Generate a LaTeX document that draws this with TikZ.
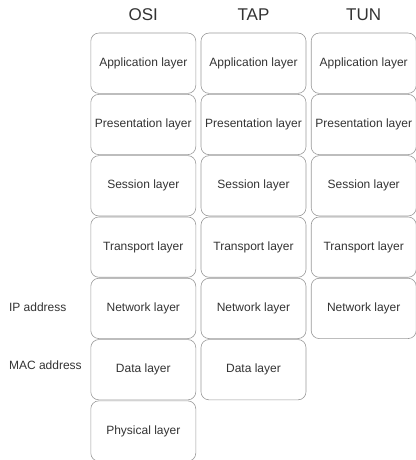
\documentclass[tikz,border=0pt]{standalone}
\usepackage{fontspec}
\setmainfont{Liberation Sans}
\usepackage{tikz}
\usetikzlibrary{positioning}

\begin{document}
\begin{tikzpicture}[node distance=61.3pt]

% Define block styles
\tikzstyle{layer} = [draw=black!40, rounded corners=8pt, minimum width=105pt, minimum height=60.3pt, inner sep=0pt, text=black!80, font=\fontsize{12}{14}\selectfont, line width=0.6pt]
\tikzstyle{colhead} = [text=black!80, font=\fontsize{17}{20}\selectfont]
\tikzstyle{addr} = [anchor=west, text=black!80, font=\fontsize{12}{14}\selectfont]

\useasboundingbox (0,0) rectangle (415pt,-460pt);

% OSI stack
\node [layer] at (143.3pt,-63.2pt) (osi1) {Application layer};
\node [layer, below of=osi1] (osi2) {Presentation layer};
\node [layer, below of=osi2] (osi3) {Session layer};
\node [layer, below of=osi3] (osi4) {Transport layer};
\node [layer, below of=osi4] (osi5) {Network layer};
\node [layer, below of=osi5] (osi6) {Data layer};
\node [layer, below of=osi6] (osi7) {Physical layer};

% TAP stack
\node [layer, right of=osi1, node distance=110.2pt] (tap1) {Application layer};
\node [layer, below of=tap1] (tap2) {Presentation layer};
\node [layer, below of=tap2] (tap3) {Session layer};
\node [layer, below of=tap3] (tap4) {Transport layer};
\node [layer, below of=tap4] (tap5) {Network layer};
\node [layer, below of=tap5] (tap6) {Data layer};

% TUN stack
\node [layer, right of=tap1, node distance=110.2pt] (tun1) {Application layer};
\node [layer, below of=tun1] (tun2) {Presentation layer};
\node [layer, below of=tun2] (tun3) {Session layer};
\node [layer, below of=tun3] (tun4) {Transport layer};
\node [layer, below of=tun4] (tun5) {Network layer};

% Column headings
\node [colhead, above of=osi1, node distance=48.2pt] (hosi) {OSI};
\node [colhead, above of=tap1, node distance=48.2pt] (htap) {TAP};
\node [colhead, above of=tun1, node distance=48.2pt] (htun) {TUN};

% Addresses
\node [addr] at (5.5pt,-307pt) (ipaddr) {IP address};
\node [addr] at (5.5pt,-365pt) (macaddr) {MAC address};

\end{tikzpicture}
\end{document}
